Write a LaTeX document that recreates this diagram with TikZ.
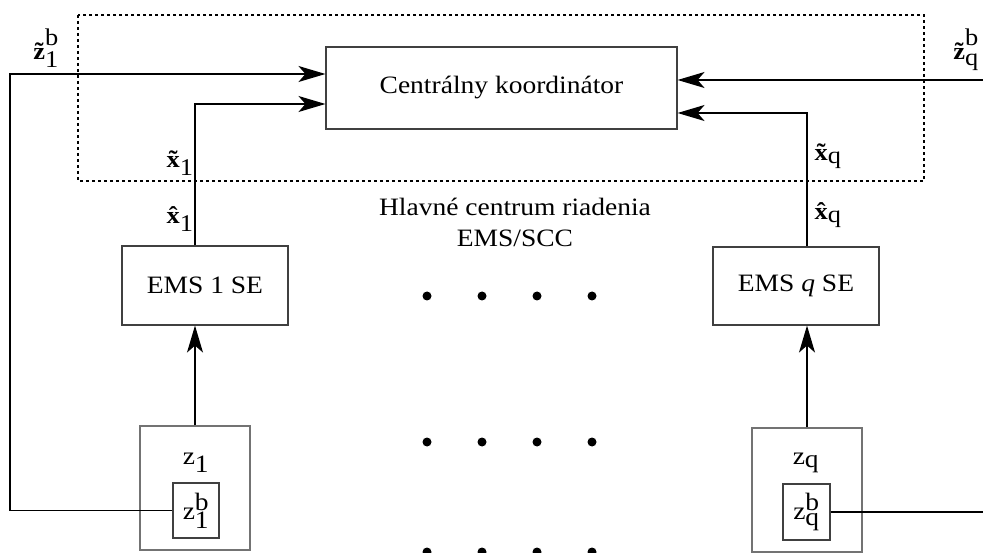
\documentclass[tikz,border=0pt]{standalone}
\usepackage{fontspec}
\setmainfont{Liberation Serif}[FakeStretch=1.1]
\usetikzlibrary{arrows.meta}
% bold letter with a tilde or a hat set over its whole width
\newcommand{\tlde}[1]{{\ooalign{\textbf{#1}\cr\hidewidth\textbf{\symbol{"02DC}}\hidewidth\cr}}}
\newcommand{\hhat}[1]{{\ooalign{\textbf{#1}\cr\hidewidth\textbf{\symbol{"02C6}}\hidewidth\cr}}}
% signal label: accented letter, subscript and optional raised superscript
\newcommand{\siglab}[3]{$\mbox{#1{#2}}_{\textnormal{#3}}$}
\newcommand{\siglabb}[3]{$\mbox{#1{#2}}_{\textnormal{#3}}^{\raisebox{5pt}{\textnormal{b}}}$}
\begin{document}
\begin{tikzpicture}[x=1pt,y=-1pt,
  every node/.style={font=\fontsize{25}{31}\selectfont, inner sep=0pt},
  box/.style={draw=black!75, line width=1.1pt},
  outerbox/.style={draw=black!55, line width=1.1pt},
  wire/.style={line width=1.4pt},
  arr/.style={wire, -{Stealth[length=27pt,width=16pt,inset=7pt]}},
  lbl/.style={font=\fontsize{24}{26}\selectfont},
  dot/.style={fill=black}
]
\useasboundingbox (0,0) rectangle (983,553);

% dotted frame of the main control centre
\draw[line width=1.2pt, dash pattern=on 3pt off 3pt] (78,15) rectangle (924,181);
\node (hc) [align=center] at (515,222) {Hlavné centrum riadenia\\EMS/SCC};

% boxes
\node (central) [box, minimum width=351pt, minimum height=82pt] at (501.5,88) {Centrálny koordinátor};
\node (ems1) [box, minimum width=166pt, minimum height=79pt] at (205,285.5) {EMS 1 SE};
\node (emsq) [box, minimum width=166pt, minimum height=78pt] at (796,286) {EMS \textit{q} SE};

\node (z1) [outerbox, minimum width=110pt, minimum height=124pt] at (195,488) {};
\node (z1lab) at (196,463) {z$_{\textnormal{1}}$};
\node (z1b) [box, minimum width=46pt, minimum height=55pt] at (196,510.5) {z$_{\textnormal{1}}^{\textnormal{b}}$};

\node (zq) [outerbox, minimum width=110pt, minimum height=124pt] at (807,490) {};
\node (zqlab) at (806,463) {z$_{\textnormal{q}}$};
\node (zqb) [box, minimum width=47pt, minimum height=56pt] at (806.5,512) {z$_{\textnormal{q}}^{\textnormal{b}}$};

% connector end points
\coordinate (zl) at (10,74);
\coordinate (zr) at (983,80);
\coordinate (in1) at (195,104);
\coordinate (inq) at (807,113);

% connectors
\draw[arr] (z1b.west) -| (zl) -- (central.west |- zl);
\draw[arr] (ems1.north -| in1) |- (central.west |- in1);
\draw[arr] (zr) -- (central.east |- zr);
\draw[arr] (emsq.north -| inq) |- (central.east |- inq);
\draw[wire] (zqb.east) -- (zqb.east -| zr);
\draw[arr] (z1.north) -- (ems1.south -| z1.north);
\draw[arr] (zq.north) -- (emsq.south -| zq.north);

% signal labels
\node (lz1) [lbl] at (46,48) {\siglabb{\tlde}{z}{1}};
\node (lx1t) [lbl] at (180,166) {\siglab{\tlde}{x}{1}};
\node (lx1h) [lbl] at (180,222) {\siglab{\hhat}{x}{1}};
\node (lxqt) [lbl] at (828,159) {\siglab{\tlde}{x}{q}};
\node (lxqh) [lbl] at (828,218) {\siglab{\hhat}{x}{q}};
\node (lzq) [lbl] at (966,50) {\siglabb{\tlde}{z}{q}};

% ellipsis dots
\foreach \y in {296,442,552}
  \foreach \x in {427,482,537,592}
    \fill[dot] (\x,\y) circle (4.5pt);
\end{tikzpicture}
\end{document}
